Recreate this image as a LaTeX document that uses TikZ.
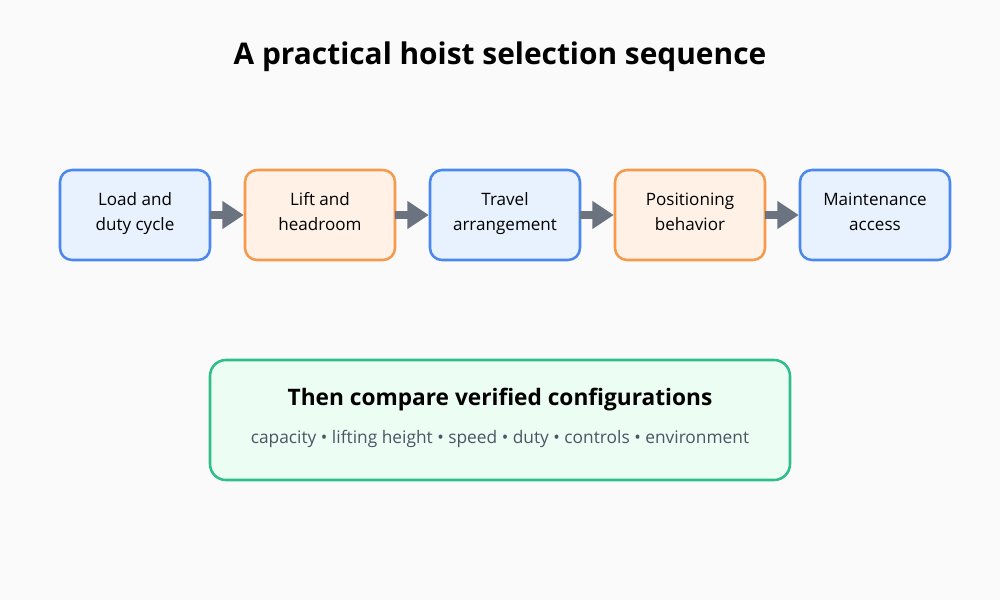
\documentclass[tikz,border=0pt]{standalone}
\usepackage{fontspec}
\setmainfont{Open Sans}
\usetikzlibrary{positioning,arrows.meta}
\definecolor{pagebg}{HTML}{FAFAFA}
\definecolor{blueline}{HTML}{4A88EE}
\definecolor{bluefill}{HTML}{E8F1FE}
\definecolor{orangeline}{HTML}{F59A4C}
\definecolor{orangefill}{HTML}{FFF1E6}
\definecolor{greenline}{HTML}{2DBE8A}
\definecolor{greenfill}{HTML}{ECFDF4}
\definecolor{arrowgray}{HTML}{6B7280}
\definecolor{subgray}{HTML}{4B5563}
\begin{document}
\begin{tikzpicture}[
  x=0.75pt, y=-0.75pt,
  stepbox/.style={draw, line width=1.9pt, rounded corners=9pt, align=center,
    minimum width=112.5pt, minimum height=67.5pt, inner sep=0pt,
    font=\fontsize{12.8pt}{18.75pt}\selectfont,
    execute at begin node={\rule{0pt}{16pt}}, execute at end node=\strut},
  bluebox/.style={stepbox, draw=blueline, fill=bluefill},
  orangebox/.style={stepbox, draw=orangeline, fill=orangefill},
  flow/.style={draw=arrowgray, line width=5.5pt, -{Triangle[length=16pt, width=20pt, fill=arrowgray]}, shorten <=-1pt},
  node distance=24.35pt
]
\fill[pagebg] (0,0) rectangle (1000,600);
\useasboundingbox (0,0) rectangle (1000,600);
\node[font=\bfseries\fontsize{22.4pt}{26pt}\selectfont] (title) at (500,57) {A practical hoist selection sequence};
\node[bluebox] (load) at (135,215) {Load and\\duty cycle};
\node[orangebox, right=of load] (lift) {Lift and\\headroom};
\node[bluebox, right=of lift] (travel) {Travel\\arrangement};
\node[orangebox, right=of travel] (pos) {Positioning\\behavior};
\node[bluebox, right=of pos] (maint) {Maintenance\\access};
\draw[flow] (load) -- (lift);
\draw[flow] (lift) -- (travel);
\draw[flow] (travel) -- (pos);
\draw[flow] (pos) -- (maint);
\node[draw=greenline, fill=greenfill, line width=1.9pt, rounded corners=12pt,
  minimum width=435pt, minimum height=90pt] (compare) at (500,420) {};
\node[font=\bfseries\fontsize{17pt}{20pt}\selectfont] (head) at (500,400) {Then compare verified configurations};
\node[font=\fontsize{13pt}{16pt}\selectfont, text=subgray] (list) at (500,439) {capacity • lifting height • speed • duty • controls • environment};
\end{tikzpicture}
\end{document}
